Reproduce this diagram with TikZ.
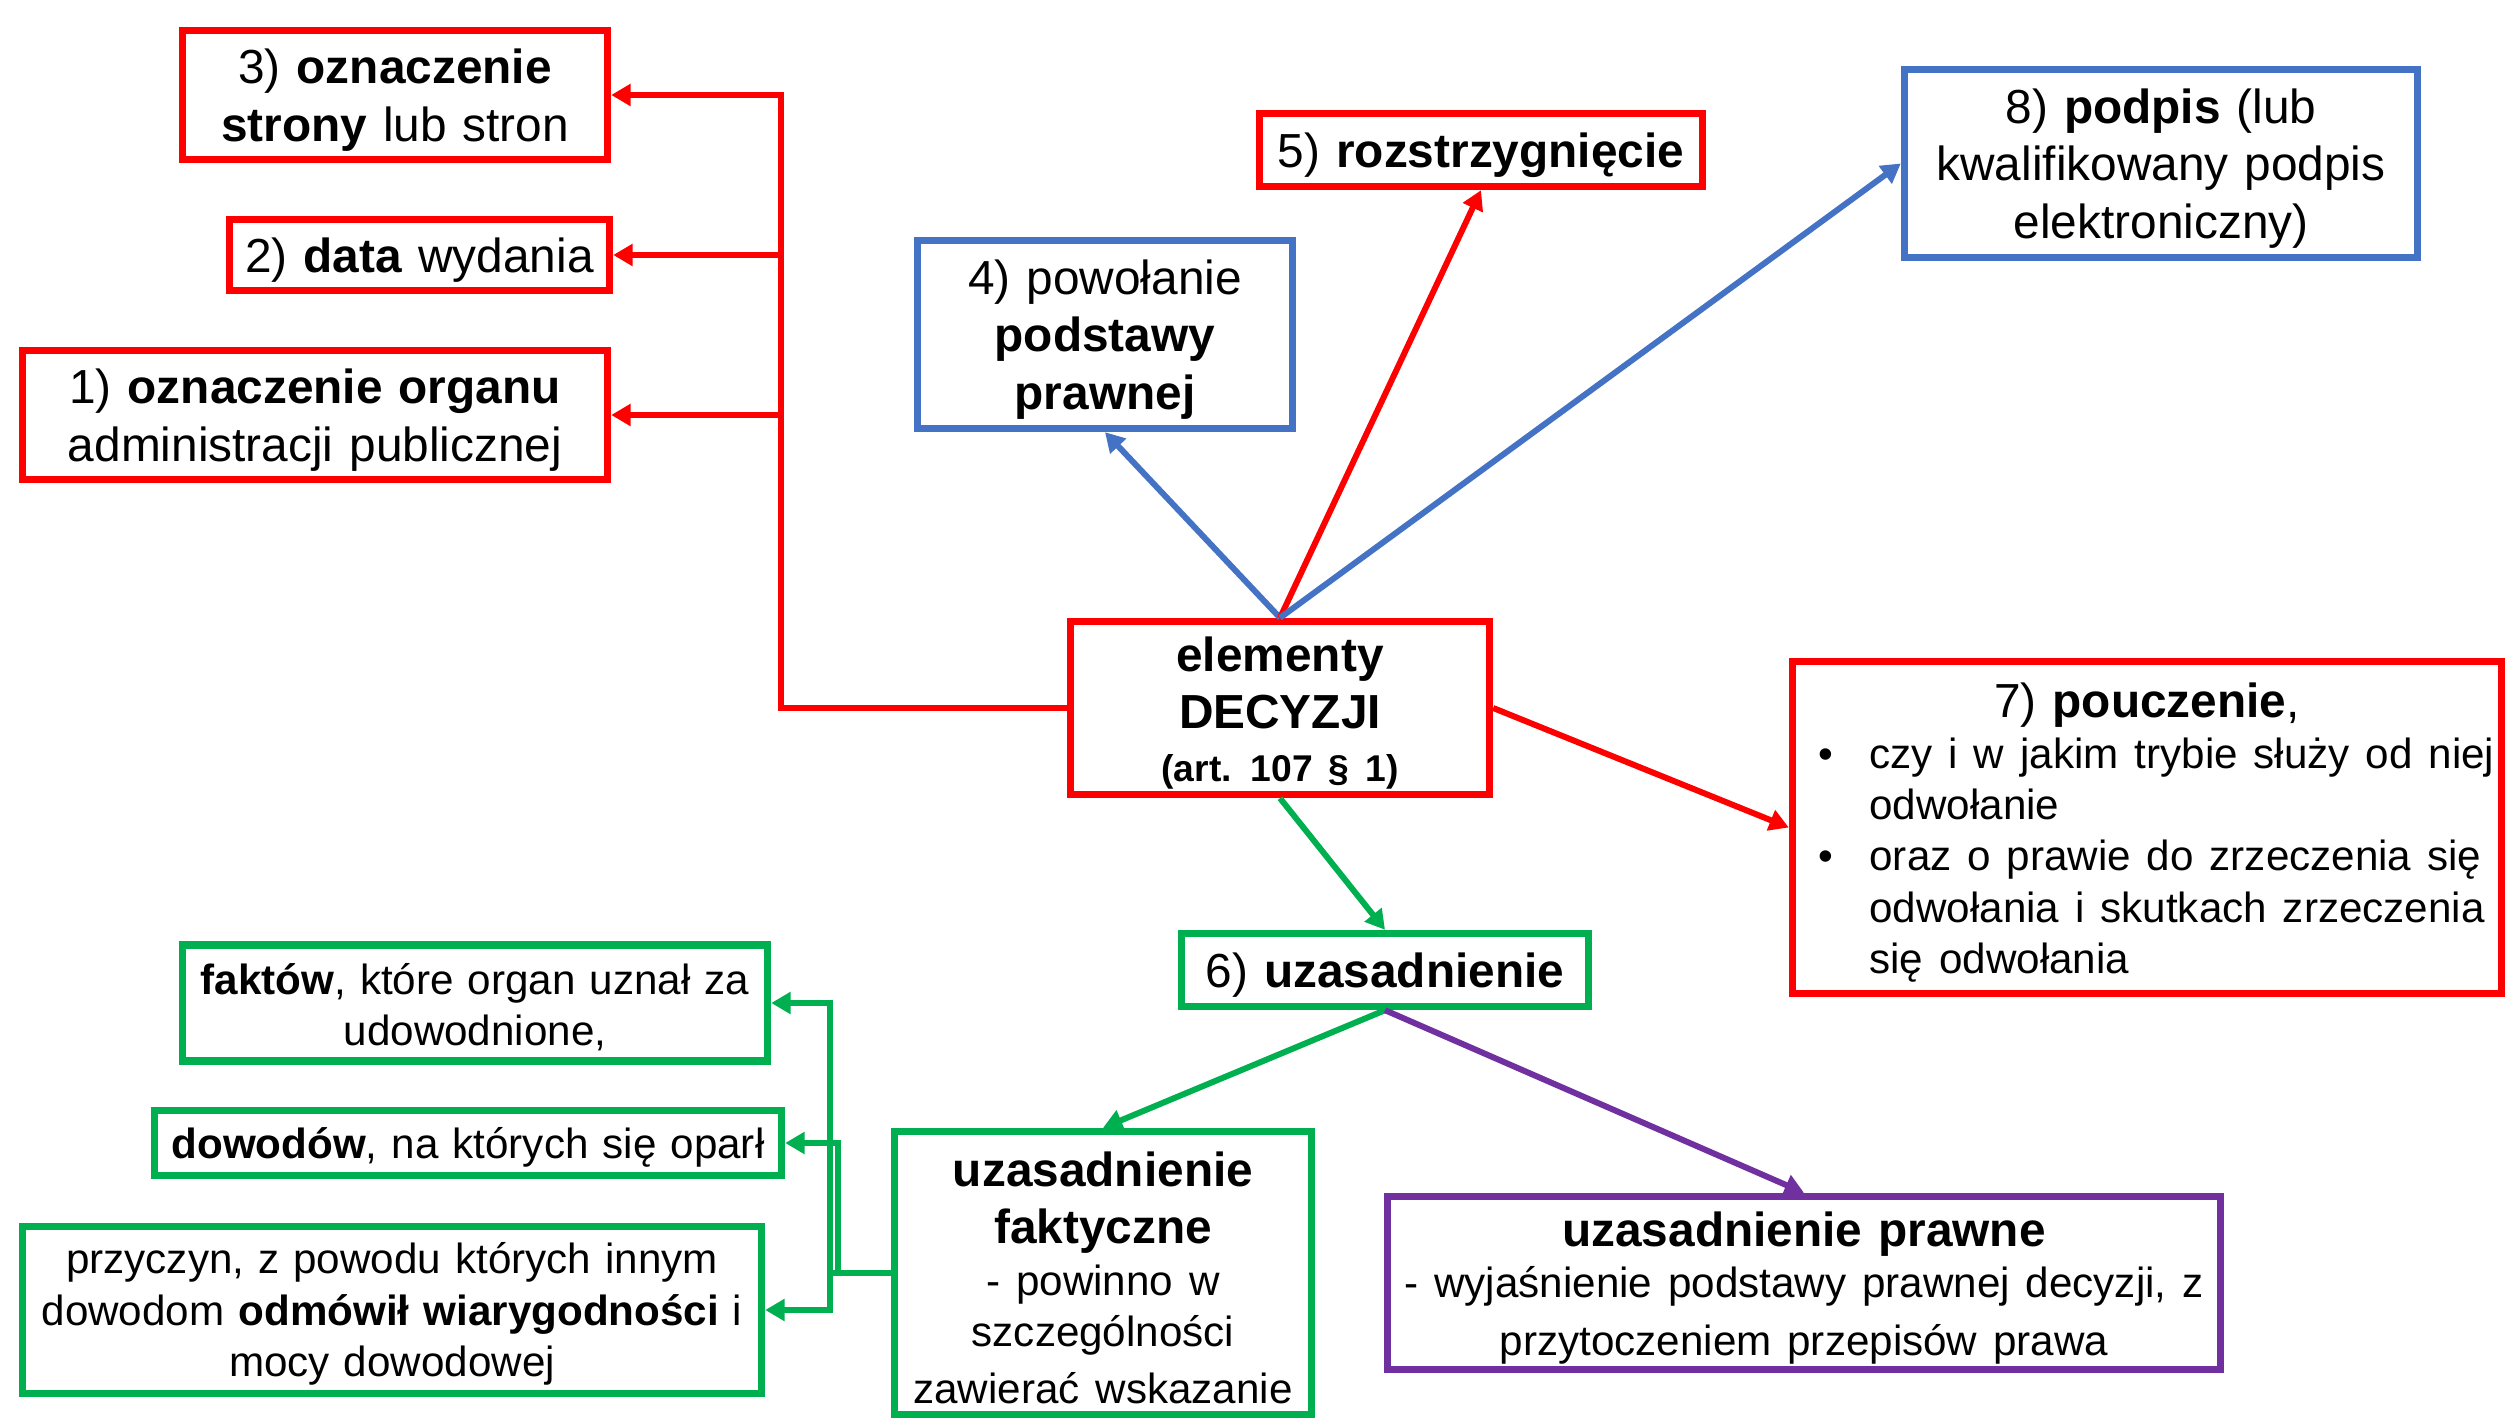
\documentclass[tikz,border=0pt]{standalone}
\usepackage{fontspec}
\setmainfont{Liberation Sans}
\usepackage{tikz}
\usetikzlibrary{arrows.meta, positioning}
\definecolor{czerwony}{HTML}{FF0000}
\definecolor{niebieski}{HTML}{4472C4}
\definecolor{zielony}{HTML}{00B050}
\definecolor{fioletowy}{HTML}{7030A0}
\newcommand{\rozmiarA}{\fontsize{13.6pt}{16.4pt}\selectfont}
\newcommand{\rozmiarB}{\fontsize{12pt}{14.6pt}\selectfont}
\newcommand{\rozmiarC}{\fontsize{10.6pt}{13pt}\selectfont}

\begin{document}
\begin{tikzpicture}[>={Triangle[length=5.5pt,width=6pt]}, line width=1.7pt]
			\tikzstyle{ramka}=[draw, rectangle, line width=2.1pt, inner sep=0pt, align=center, font=\rozmiarA,
				execute at begin node={\rule{0pt}{0.93em}}]
			\tikzstyle{redbox}=[ramka, draw=czerwony]
			\tikzstyle{bluebox}=[ramka, draw=niebieski]
			\tikzstyle{greenbox}=[ramka, draw=zielony]
			\tikzstyle{purplebox}=[ramka, draw=fioletowy]
			\tikzstyle{czerwona}=[draw=czerwony]
			\tikzstyle{niebieska}=[draw=niebieski]
			\tikzstyle{zielona}=[draw=zielony]
			\tikzstyle{fioletowa}=[draw=fioletowy]
			
			\useasboundingbox (0,0) rectangle (25.09,-14.21);
			
			\node[redbox, text width=4.19cm, minimum height=1.73cm] (elementy) at (12.80,-7.08)
				{\textbf{elementy}\\ \textbf{DECYZJI}\par\vspace{-1.5pt} \rozmiarC\textbf{(art.\enspace 107 § 1)}};
			
			% lewa strona
			\node[redbox, text width=4.25cm, minimum height=1.29cm] (strona) at (3.95,-0.95)
				{3) \textbf{oznaczenie}\\ \textbf{strony} lub stron};
			\node[redbox, text width=3.80cm, minimum height=0.71cm] (data) at (4.195,-2.55)
				{2) \textbf{data} wydania};
			\node[redbox, text width=5.85cm, minimum height=1.29cm] (organ) at (3.15,-4.15)
				{1) \textbf{oznaczenie organu}\\ administracji publicznej};
			
			% gora
			\node[bluebox, text width=3.75cm, minimum height=1.88cm] (podstawa) at (11.05,-3.345)
				{4) powołanie\\ \textbf{podstawy}\\ \textbf{prawnej}};
			\node[redbox, text width=4.43cm, minimum height=0.73cm] (rozstrzygniecie) at (14.81,-1.50)
				{5) \textbf{rozstrzygnięcie}};
			\node[bluebox, text width=5.13cm, minimum height=1.88cm] (podpis) at (21.61,-1.635)
				{8) \textbf{podpis} (lub\\ kwalifikowany podpis\\ elektroniczny)};
			
			% prawa strona
			\node[redbox, align=left, text width=7.09cm, minimum height=3.32cm] (pouczenie) at (21.47,-8.275)
				{{\centering 7) \textbf{pouczenie},\par}
				\rozmiarB\leftskip=0.26cm
				\hangindent=0.51cm\hangafter=1\makebox[0.51cm][l]{\textbullet}czy i w jakim trybie służy od niej\newline odwołanie\par
				\hangindent=0.51cm\hangafter=1\makebox[0.51cm][l]{\textbullet}oraz o prawie do zrzeczenia się\newline odwołania i skutkach zrzeczenia\newline się odwołania\par};
			
			% uzasadnienie
			\node[greenbox, text width=4.07cm, minimum height=0.73cm] (uzasadnienie) at (13.85,-9.70)
				{6) \textbf{uzasadnienie}};
			\node[greenbox, text width=4.17cm, minimum height=2.83cm] (faktyczne) at (11.03,-12.73)
				{\textbf{uzasadnienie}\\ \textbf{faktyczne}\par \rozmiarB - powinno w\\ szczególności\\ zawierać wskazanie};
			\node[purplebox, text width=8.33cm, minimum height=1.73cm] (prawne) at (18.04,-12.83)
				{\textbf{uzasadnienie prawne}\par \rozmiarB - wyjaśnienie podstawy prawnej decyzji, z\\ przytoczeniem przepisów prawa};
			\node[greenbox, font=\rozmiarB, text width=5.85cm, minimum height=1.16cm] (fakty) at (4.75,-10.03)
				{\textbf{faktów}, które organ uznał za\\ udowodnione,};
			\node[greenbox, font=\rozmiarB, text width=6.27cm, minimum height=0.65cm] (dowody) at (4.68,-11.43)
				{\textbf{dowodów}, na których się oparł};
			\node[greenbox, font=\rozmiarB, text width=7.39cm, minimum height=1.67cm] (przyczyny) at (3.92,-13.10)
				{przyczyn, z powodu których innym\\ dowodom \textbf{odmówił wiarygodności} i\\ mocy dowodowej};
			
			\coordinate (redtrunk) at (7.81,-7.08);
			\coordinate (greentrunk) at (8.30,-12.73);
			
			\draw[->, czerwona] (elementy.west) -- (redtrunk) |- (strona.east);
			\draw[->, czerwona] (elementy.west) -- (redtrunk) |- (data.east);
			\draw[->, czerwona] (elementy.west) -- (redtrunk) |- (organ.east);
			
			\draw[->, zielona] (faktyczne.west) -- (greentrunk) |- (fakty.east);
			\draw[->, zielona] (faktyczne.west) -- ([xshift=0.8mm]greentrunk) |- (dowody.east);
			\draw[->, zielona] (faktyczne.west) -- (greentrunk) |- (przyczyny.east);
			
			\path[->]
			(elementy.north) edge[niebieska] (podstawa.south)
			edge[czerwona] (rozstrzygniecie.south)
			edge[niebieska] (podpis.west)
			(elementy.east) edge[czerwona] (pouczenie.west)
			(elementy.south) edge[zielona] (uzasadnienie.north)
			(uzasadnienie.south) edge[zielona] (faktyczne.north)
			edge[fioletowa] (prawne.north);
		\end{tikzpicture}
\end{document}
